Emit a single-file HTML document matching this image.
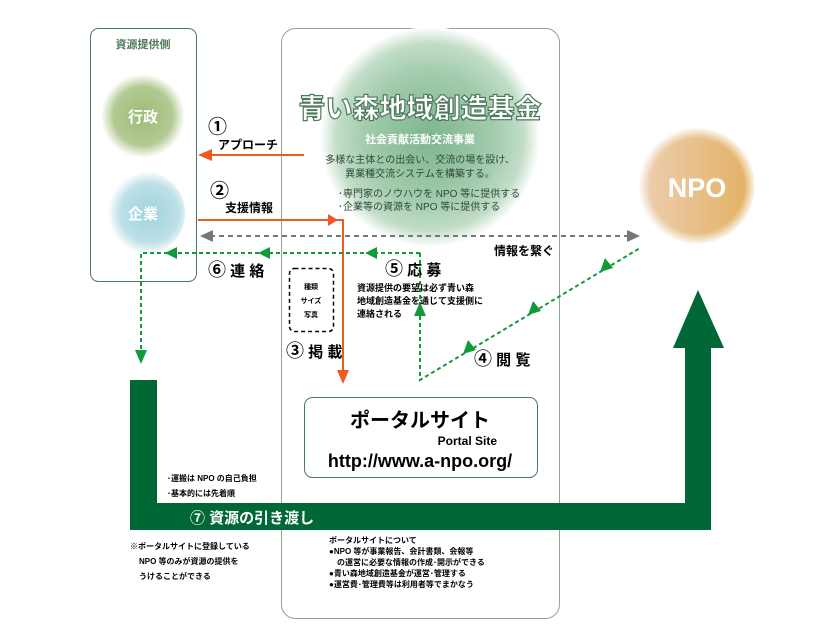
<!DOCTYPE html>
<html><head><meta charset="utf-8"><style>
body{margin:0;background:#fff}
svg{display:block}
text{font-family:"Liberation Sans","Noto Sans CJK JP",sans-serif;font-weight:bold}
</style></head><body>
<svg width="840" height="640" viewBox="0 0 840 640" xmlns="http://www.w3.org/2000/svg">
<defs>
<radialGradient id="gf" cx="50%" cy="50%" r="50%"><stop offset="0" stop-color="#7db58f"/><stop offset="0.6" stop-color="#a3ccae"/><stop offset="0.85" stop-color="#c2ddc8"/><stop offset="1" stop-color="#fff"/></radialGradient>
<radialGradient id="gg" cx="50%" cy="50%" r="50%"><stop offset="0" stop-color="#9dba76"/><stop offset="0.7" stop-color="#b3ca93"/><stop offset="1" stop-color="#fff"/></radialGradient>
<radialGradient id="gb" cx="58%" cy="50%" r="50%"><stop offset="0" stop-color="#9fd2de"/><stop offset="0.7" stop-color="#bde0e7"/><stop offset="1" stop-color="#fff"/></radialGradient>
<linearGradient id="go" x1="0" x2="1"><stop offset="0" stop-color="#edcfb2"/><stop offset="1" stop-color="#e2b060"/></linearGradient>
<radialGradient id="gom" cx="50%" cy="50%" r="50%"><stop offset="0.8" stop-color="#fff" stop-opacity="0"/><stop offset="1" stop-color="#fff"/></radialGradient>
</defs>
<rect x="90.5" y="28.5" width="106" height="253" rx="8" fill="none" stroke="#4e7a5c"/>
<rect x="281.5" y="28.5" width="278" height="590" rx="14" fill="none" stroke="#8aa890"/>
<text x="143" y="48" font-size="11" fill="#4e7a5c" text-anchor="middle">資源提供側</text>
<circle cx="143" cy="116" r="42" fill="url(#gg)"/>
<text x="143" y="122" font-size="15" fill="#fff" text-anchor="middle">行政</text>
<circle cx="143" cy="213" r="42" fill="url(#gb)"/>
<text x="143" y="219" font-size="15" fill="#fff" text-anchor="middle">企業</text>
<circle cx="430" cy="137" r="110" fill="url(#gf)"/>
<text x="420" y="118" font-size="27" fill="#fff" stroke="#4e7a5c" stroke-width="1.2" text-anchor="middle" style="font-weight:900">青い森地域創造基金</text>
<text x="420" y="143" font-size="11" fill="#fff" text-anchor="middle">社会貢献活動交流事業</text>
<text x="420" y="163" font-size="10" fill="#2e4a36" text-anchor="middle" style="font-weight:normal">多様な主体との出会い、交流の場を設け、</text>
<text x="420" y="177" font-size="10" fill="#2e4a36" text-anchor="middle" style="font-weight:normal">異業種交流システムを構築する。</text>
<text x="338" y="197" font-size="10" fill="#2e4a36" style="font-weight:normal">･専門家のノウハウを NPO 等に提供する</text>
<text x="338" y="210" font-size="10" fill="#2e4a36" style="font-weight:normal">･企業等の資源を NPO 等に提供する</text>
<circle cx="697" cy="186" r="58" fill="url(#go)"/>
<circle cx="697" cy="186" r="59" fill="url(#gom)"/>
<text x="697" y="197" font-size="27" fill="#fff" text-anchor="middle">NPO</text>
<path d="M130 380 H157 V503 H685 V348 H673 L698 290 L724 348 H711 V530 H130 Z" fill="#006837"/>
<text x="190" y="523" font-size="15" fill="#fff">⑦ 資源の引き渡し</text>
<g stroke="#ef5a24" stroke-width="2" fill="none"><path d="M304 155 H205"/><path d="M198 220 H343 V376"/></g>
<path d="M198 155 L212 149 L212 161Z" fill="#ef5a24"/>
<path d="M328 214 L338 220 L328 226 Z" fill="#ef5a24"/>
<path d="M343 384 L337 370 L349 370Z" fill="#ef5a24"/>
<text x="208" y="133" font-size="19" fill="#000">①</text>
<text x="218" y="149" font-size="12" fill="#000">アプローチ</text>
<text x="210" y="197" font-size="19" fill="#000">②</text>
<text x="225" y="212" font-size="12" fill="#000">支援情報</text>
<path d="M210 236 H630" stroke="#777" stroke-width="2" stroke-dasharray="5,4"/>
<path d="M200 236 L213 230 L213 242Z" fill="#777"/>
<path d="M640 236 L627 230 L627 242Z" fill="#777"/>
<text x="494" y="255" font-size="12" fill="#000">情報を繋ぐ</text>
<g stroke="#119a3a" stroke-width="2" stroke-dasharray="4,3" fill="none">
<path d="M420 253 H141 V356"/><path d="M420 253 V380 L640 248"/></g>
<g fill="#119a3a">
<path d="M165 253 L177 247 L177 259Z"/><path d="M258 253 L270 247 L270 259Z"/><path d="M365 253 L377 247 L377 259Z"/>
<path d="M141 364 L135 350 L147 350Z"/>
<path d="M420 302 L414 316 L426 316Z"/>
<path d="M600 272 L605 258 L613 268Z"/><path d="M528 315 L533 301 L541 311Z"/><path d="M463 354 L468 340 L476 350Z"/>
</g>
<text x="208" y="276" font-size="15" fill="#000"><tspan font-size="18">⑥</tspan> 連 絡</text>
<text x="385" y="275" font-size="15" fill="#000"><tspan font-size="18">⑤</tspan> 応 募</text>
<text x="357" y="291" font-size="9" fill="#000">資源提供の要望は必ず青い森</text>
<text x="357" y="304" font-size="9" fill="#000">地域創造基金を通じて支援側に</text>
<text x="357" y="317" font-size="9" fill="#000">連絡される</text>
<text x="474" y="365" font-size="15" fill="#000"><tspan font-size="18">④</tspan> 閲 覧</text>
<text x="286" y="357" font-size="15" fill="#000"><tspan font-size="18">③</tspan> 掲 載</text>
<rect x="289.5" y="268.5" width="44" height="63" rx="5" fill="none" stroke="#000" stroke-width="1.5" stroke-dasharray="4,3"/>
<text x="311" y="289" font-size="7" fill="#000" text-anchor="middle">種類</text>
<text x="311" y="303" font-size="7" fill="#000" text-anchor="middle">サイズ</text>
<text x="311" y="317" font-size="7" fill="#000" text-anchor="middle">写真</text>
<rect x="304.5" y="397.5" width="233" height="80" rx="8" fill="#fff" stroke="#4e7a5c"/>
<text x="420" y="427" font-size="20" fill="#000" text-anchor="middle">ポータルサイト</text>
<text x="497" y="445" font-size="12" fill="#000" text-anchor="end">Portal Site</text>
<text x="420" y="467" font-size="18" fill="#000" text-anchor="middle">http://www.a-npo.org/</text>
<text x="167" y="481" font-size="8" fill="#000">･運搬は NPO の自己負担</text>
<text x="167" y="496" font-size="8" fill="#000">･基本的には先着順</text>
<text x="130" y="549" font-size="8" fill="#000">※ポータルサイトに登録している</text>
<text x="139" y="564" font-size="8" fill="#000">NPO 等のみが資源の提供を</text>
<text x="139" y="579" font-size="8" fill="#000">うけることができる</text>
<text x="329" y="543" font-size="8" fill="#000">ポータルサイトについて</text>
<text x="329" y="554" font-size="8" fill="#000">●NPO 等が事業報告、会計書類、会報等</text>
<text x="337" y="565" font-size="8" fill="#000">の運営に必要な情報の作成･開示ができる</text>
<text x="329" y="576" font-size="8" fill="#000">●青い森地域創造基金が運営･管理する</text>
<text x="329" y="587" font-size="8" fill="#000">●運営費･管理費等は利用者等でまかなう</text>
</svg>
</body></html>
